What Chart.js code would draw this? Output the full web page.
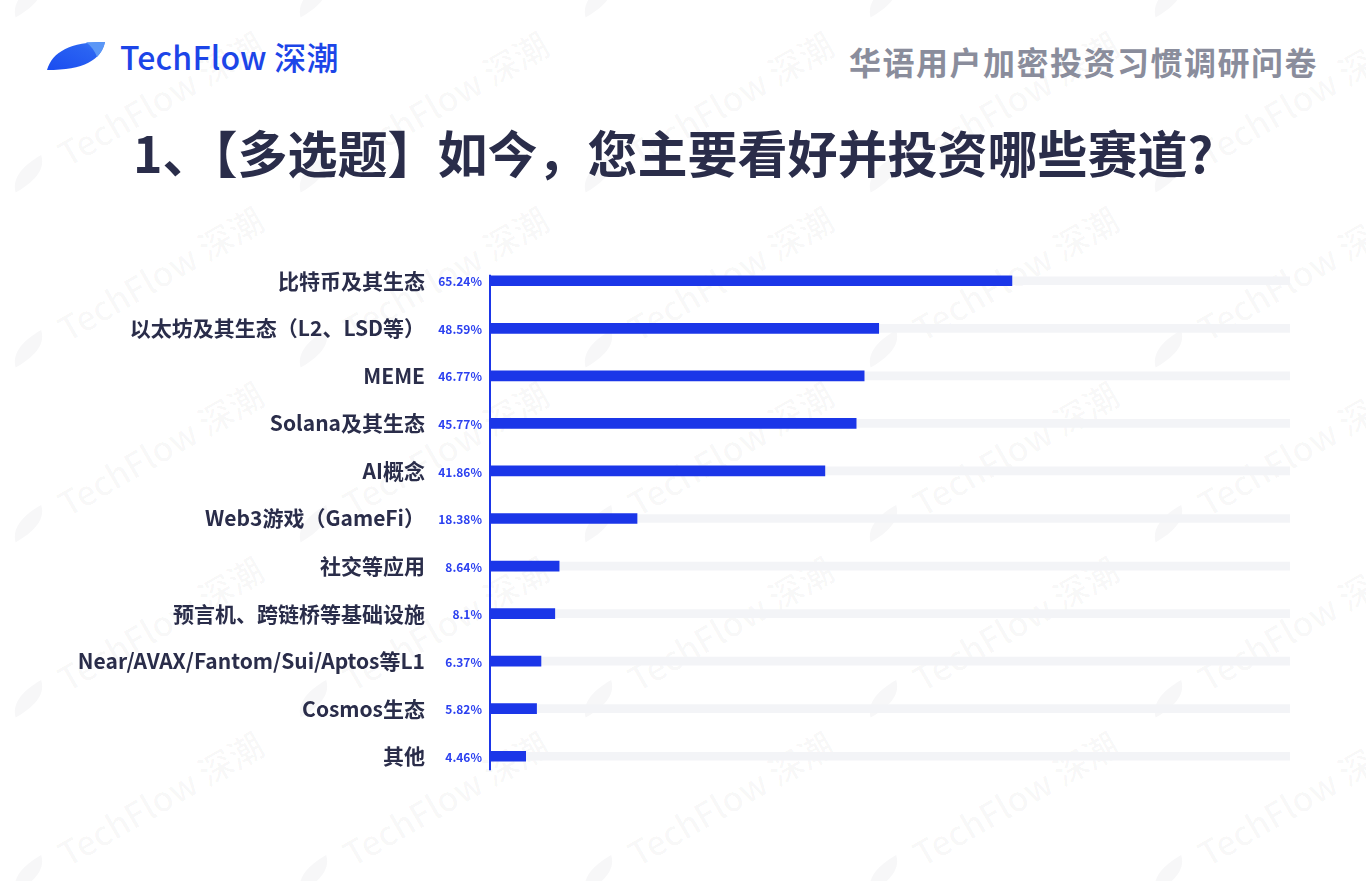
<!DOCTYPE html>
<html>
<head>
<meta charset="utf-8">
<script src="https://cdn.jsdelivr.net/npm/chart.js@4.4.1/dist/chart.umd.min.js"></script>
<style>
  html, body { margin: 0; padding: 0; background: #ffffff; }
  body { width: 1366px; height: 881px; position: relative; overflow: hidden; font-family: "Noto Sans CJK SC", "Noto Sans", sans-serif; }
  #wm { position: absolute; left: 0; top: 0; width: 1366px; height: 881px; pointer-events: none; z-index: 0; }
  .wmi { position: absolute; white-space: nowrap; transform-origin: 0 50%; transform: rotate(-30deg); color: rgba(40,40,60,0.035); font-size: 34px; font-weight: 500; display: flex; align-items: center; }
  .wmi svg { margin-right: 14px; }
  #logo { position: absolute; left: 46px; top: 40px; z-index: 2; }
  #brand { position: absolute; left: 120px; top: 33px; font-size: 32px; font-weight: 500; color: #1c45e8; z-index: 2; letter-spacing: 0.2px; }
  #survey { position: absolute; right: 48px; top: 38px; font-size: 32px; font-weight: 700; color: #8a8d9c; z-index: 2; letter-spacing: 1.5px; }
  #title { position: absolute; left: 0; width: 1346px; top: 115px; text-align: center; font-size: 50px; font-weight: 700; color: #2a2d4a; z-index: 2; }
  #chartWrap { position: absolute; left: 0; top: 257px; width: 1366px; height: 523px; z-index: 2; }
</style>
</head>
<body>
<div id="wm"></div>
<svg id="logo" width="62" height="34" viewBox="0 0 62 34">
  <defs>
    <linearGradient id="lg" x1="0" y1="1" x2="1" y2="0">
      <stop offset="0" stop-color="#1a4cf0"/>
      <stop offset="0.7" stop-color="#2a63f2"/>
      <stop offset="1" stop-color="#3f7ef5"/>
    </linearGradient>
  </defs>
  <path d="M1,30 C6,12 24,2 59,2 C55,20 38,30 1,30 Z" fill="url(#lg)"/>
  <path d="M40,2.3 L59,2 C58,8 55,13 51,17 C49,11 45,6 40,2.3 Z" fill="#5b97f6"/>
</svg>
<div id="brand">TechFlow 深潮</div>
<div id="survey">华语用户加密投资习惯调研问卷</div>
<div id="title">1、【多选题】如今，您主要看好并投资哪些赛道?</div>
<div id="chartWrap"><canvas id="c" width="1366" height="523"></canvas></div>
<script>
// ---- data ----
const categories = [
  "比特币及其生态",
  "以太坊及其生态（L2、LSD等）",
  "MEME",
  "Solana及其生态",
  "AI概念",
  "Web3游戏（GameFi）",
  "社交等应用",
  "预言机、跨链桥等基础设施",
  "Near/AVAX/Fantom/Sui/Aptos等L1",
  "Cosmos生态",
  "其他"
];
const percentValues = [65.24, 48.59, 46.77, 45.77, 41.86, 18.38, 8.64, 8.1, 6.37, 5.82, 4.46];
const axisMax = 100;
const trackValues = categories.map(() => axisMax);

// ---- watermark ----
(function () {
  const wm = document.getElementById('wm');
  const leaf = '<svg width="44" height="24" viewBox="0 0 62 34"><path d="M1,30 C6,12 24,2 59,2 C55,20 38,30 1,30 Z" fill="currentColor"/></svg>';
  for (let r = -1; r < 7; r++) {
    for (let col = -1; col < 6; col++) {
      const d = document.createElement('div');
      d.className = 'wmi';
      d.innerHTML = leaf + '<span>TechFlow 深潮</span>';
      d.style.left = (col * 285 + 10) + 'px';
      d.style.top = (r * 175 + 160) + 'px';
      wm.appendChild(d);
    }
  }
})();

// ---- plugins ----
const BLUE = '#1b36e8';
const valueLabels = {
  id: 'valueLabels',
  afterDatasetsDraw(chart) {
    const ctx = chart.ctx;
    const xs = chart.scales.x, ys = chart.scales.y;
    const x0 = xs.getPixelForValue(0);
    ctx.save();
    ctx.strokeStyle = BLUE;
    ctx.lineWidth = 2;
    ctx.beginPath();
    ctx.moveTo(x0, ys.getPixelForValue(0) - 6);
    ctx.lineTo(x0, ys.getPixelForValue(categories.length - 1) + 14);
    ctx.stroke();
    ctx.font = '700 12px "Noto Sans CJK SC", "Noto Sans", sans-serif';
    ctx.fillStyle = '#2b40f0';
    ctx.textAlign = 'right';
    ctx.textBaseline = 'middle';
    percentValues.forEach((v, i) => {
      ctx.fillText(v + '%', x0 - 8, ys.getPixelForValue(i) + 1);
    });
    ctx.restore();
  }
};

new Chart(document.getElementById('c'), {
  type: 'bar',
  data: {
    labels: categories,
    datasets: [
      { data: percentValues, backgroundColor: BLUE, barThickness: 10, order: 0 },
      { data: trackValues, backgroundColor: '#f3f4f7', barThickness: 8, order: 1 }
    ]
  },
  options: {
    indexAxis: 'y',
    responsive: false,
    devicePixelRatio: 1,
    animation: false,
    grouped: false,
    layout: { padding: { left: 0, right: 76, top: 0, bottom: 0 } },
    plugins: { legend: { display: false }, tooltip: { enabled: false } },
    scales: {
      x: { display: false, min: 0, max: axisMax },
      y: {
        afterFit(scale) { scale.width = 490; scale.paddingTop = 0; scale.paddingBottom = 0; },
        grid: { display: false, drawTicks: false },
        border: { display: false },
        ticks: {
          padding: 65,
          color: '#2a2d4a',
          font: { family: '"Noto Sans CJK SC", "Noto Sans", sans-serif', size: 21, weight: '700' }
        }
      }
    }
  },
  plugins: [valueLabels]
});
</script>
</body>
</html>
